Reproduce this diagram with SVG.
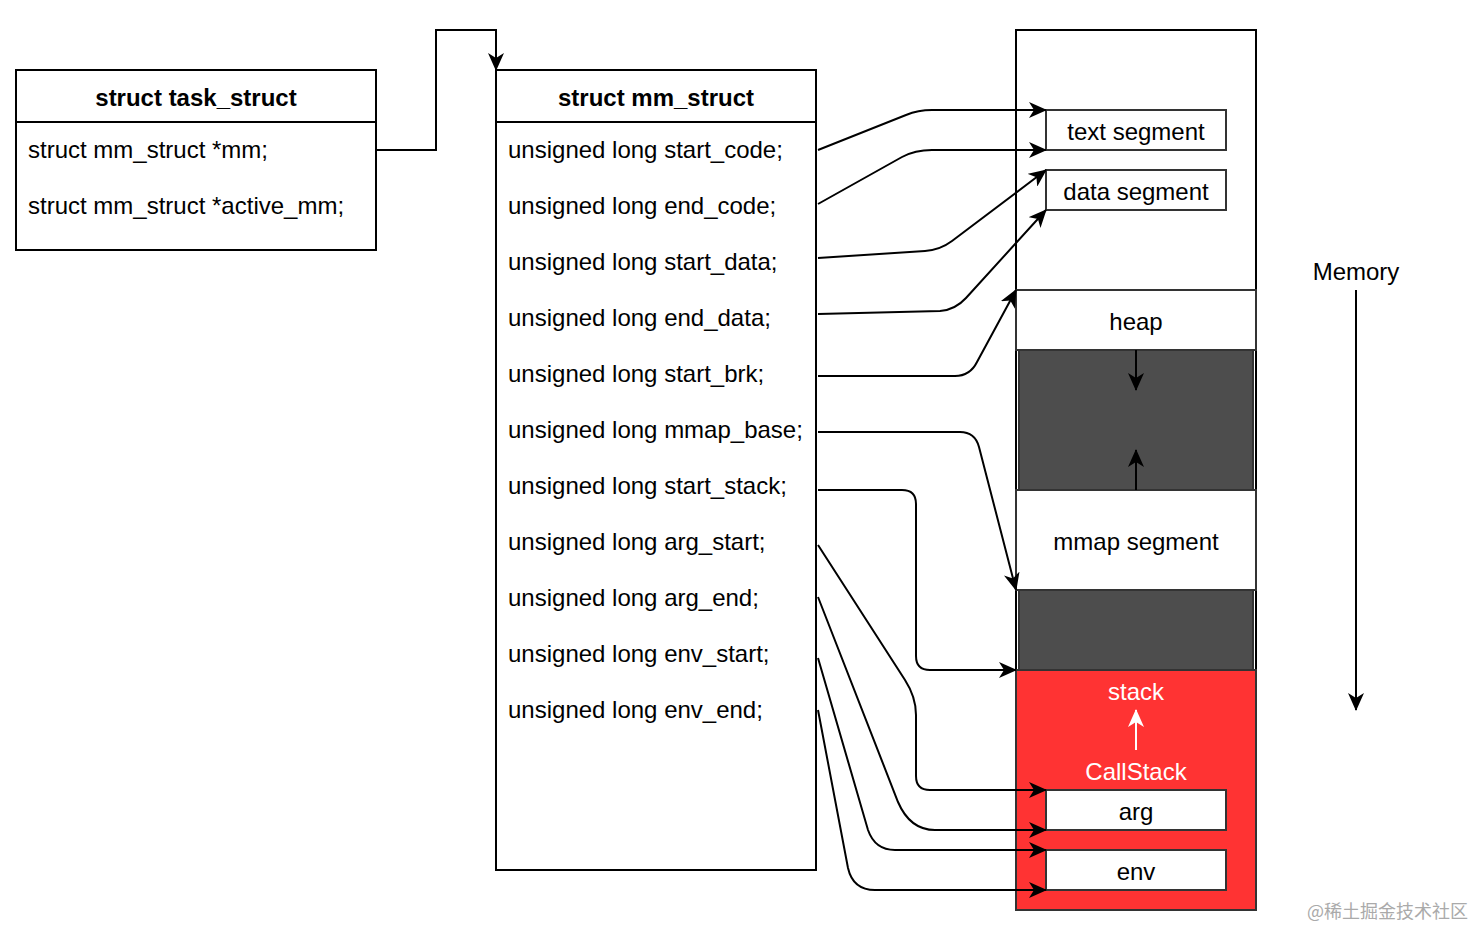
<svg xmlns="http://www.w3.org/2000/svg" width="1474" height="928" viewBox="0 0 1474 928">
<defs>
<marker id="arr" viewBox="0 0 18 16" refX="17" refY="8" markerWidth="18" markerHeight="16" markerUnits="userSpaceOnUse" orient="auto">
<path d="M0,0 L18,8 L0,16 L5,8 Z" fill="#000"/>
</marker>
<marker id="arrw" viewBox="0 0 18 16" refX="17" refY="8" markerWidth="18" markerHeight="16" markerUnits="userSpaceOnUse" orient="auto">
<path d="M0,0 L18,8 L0,16 L5,8 Z" fill="#fff"/>
</marker>
<style>
text{font-family:"Liberation Sans",Arial,sans-serif;font-size:24px;fill:#000}
.b{font-weight:bold}
.c{text-anchor:middle}
.w{fill:#fff}
.box{fill:#fff;stroke:#000;stroke-width:2}
.seg{fill:#fff;stroke:#333;stroke-width:2}
.dark{fill:#4d4d4d;stroke:#333;stroke-width:2}
.edge{fill:none;stroke:#000;stroke-width:2;marker-end:url(#arr)}
</style>
</defs>
<rect width="1474" height="928" fill="#fff"/>

<g id="task_struct">
<rect class="box" x="16" y="70" width="360" height="180"/>
<line x1="16" y1="122" x2="376" y2="122" stroke="#000" stroke-width="2"/>
<text class="b c" x="196" y="106">struct task_struct</text>
<text x="28" y="158">struct mm_struct *mm;</text>
<text x="28" y="214">struct mm_struct *active_mm;</text>
</g>

<g id="mm_struct">
<rect class="box" x="496" y="70" width="320" height="800"/>
<line x1="496" y1="122" x2="816" y2="122" stroke="#000" stroke-width="2"/>
<text class="b c" x="656" y="106">struct mm_struct</text>
<text x="508" y="158">unsigned long start_code;</text>
<text x="508" y="214">unsigned long end_code;</text>
<text x="508" y="270">unsigned long start_data;</text>
<text x="508" y="326">unsigned long end_data;</text>
<text x="508" y="382">unsigned long start_brk;</text>
<text x="508" y="438">unsigned long mmap_base;</text>
<text x="508" y="494">unsigned long start_stack;</text>
<text x="508" y="550">unsigned long arg_start;</text>
<text x="508" y="606">unsigned long arg_end;</text>
<text x="508" y="662">unsigned long env_start;</text>
<text x="508" y="718">unsigned long env_end;</text>
</g>

<g id="memory">
<rect class="box" x="1016" y="30" width="240" height="880"/>
<rect id="heap" class="seg" x="1016" y="290" width="240" height="60"/>
<text class="c" x="1136" y="330">heap</text>
<rect id="free1" class="dark" x="1019" y="350" width="234" height="140"/>
<rect id="mmap" class="seg" x="1016" y="490" width="240" height="100"/>
<text class="c" x="1136" y="550">mmap segment</text>
<rect id="free2" class="dark" x="1019" y="590" width="234" height="80"/>
<rect id="stack" x="1016" y="670" width="240" height="240" fill="#ff3333" stroke="#333" stroke-width="2"/>
<text class="c w" x="1136" y="700">stack</text>
<text class="c w" x="1136" y="780">CallStack</text>
</g>

<g id="text_segment">
<rect class="seg" x="1046" y="110" width="180" height="40"/>
<text class="c" x="1136" y="140">text segment</text>
</g>
<g id="data_segment">
<rect class="seg" x="1046" y="170" width="180" height="40"/>
<text class="c" x="1136" y="200">data segment</text>
</g>
<g id="arg">
<rect class="seg" x="1046" y="790" width="180" height="40"/>
<text class="c" x="1136" y="820">arg</text>
</g>
<g id="env">
<rect class="seg" x="1046" y="850" width="180" height="40"/>
<text class="c" x="1136" y="880">env</text>
</g>

<g id="memory_label">
<text class="c" x="1356" y="280">Memory</text>
</g>

<g id="connectors">
<path class="edge" d="M376,150 L436,150 L436,30 L496,30 L496,70"/>
<path class="edge" d="M818,150 L906,115 Q918,110 932,110 L1046,110"/>
<path class="edge" d="M818,204 L902,157 Q915,150 932,150 L1046,150"/>
<path class="edge" d="M818,258 L925,251 Q940,250 952,241 L1046,170"/>
<path class="edge" d="M818,314 L940,311 Q955,310 966,298 L1046,210"/>
<path class="edge" d="M818,376 L955,376 Q970,376 977,362 L1016,290"/>
<path class="edge" d="M818,432 L960,432 Q975,432 979,447 L1016,590"/>
<path class="edge" d="M818,490 L902,490 Q916,490 916,504 L916,656 Q916,670 930,670 L1016,670"/>
<path class="edge" d="M818,545 L905,680 Q916,697 916,715 L916,776 Q916,790 930,790 L1046,790"/>
<path class="edge" d="M818,597 L898,802 Q910,830 935,830 L1046,830"/>
<path class="edge" d="M818,658 L868,830 Q875,850 895,850 L1046,850"/>
<path class="edge" d="M818,710 L848,868 Q853,890 875,890 L1046,890"/>
<path class="edge" d="M1136,350 L1136,390"/>
<path class="edge" d="M1136,490 L1136,450"/>
<path d="M1136,750 L1136,710" fill="none" stroke="#fff" stroke-width="2" marker-end="url(#arrw)"/>
<path class="edge" d="M1356,290 L1356,710"/>
</g>

<text x="1468" y="918" style="font-family:'Noto Sans CJK SC',sans-serif;font-size:18px;fill:#aaa;text-anchor:end">@稀土掘金技术社区</text>
</svg>
